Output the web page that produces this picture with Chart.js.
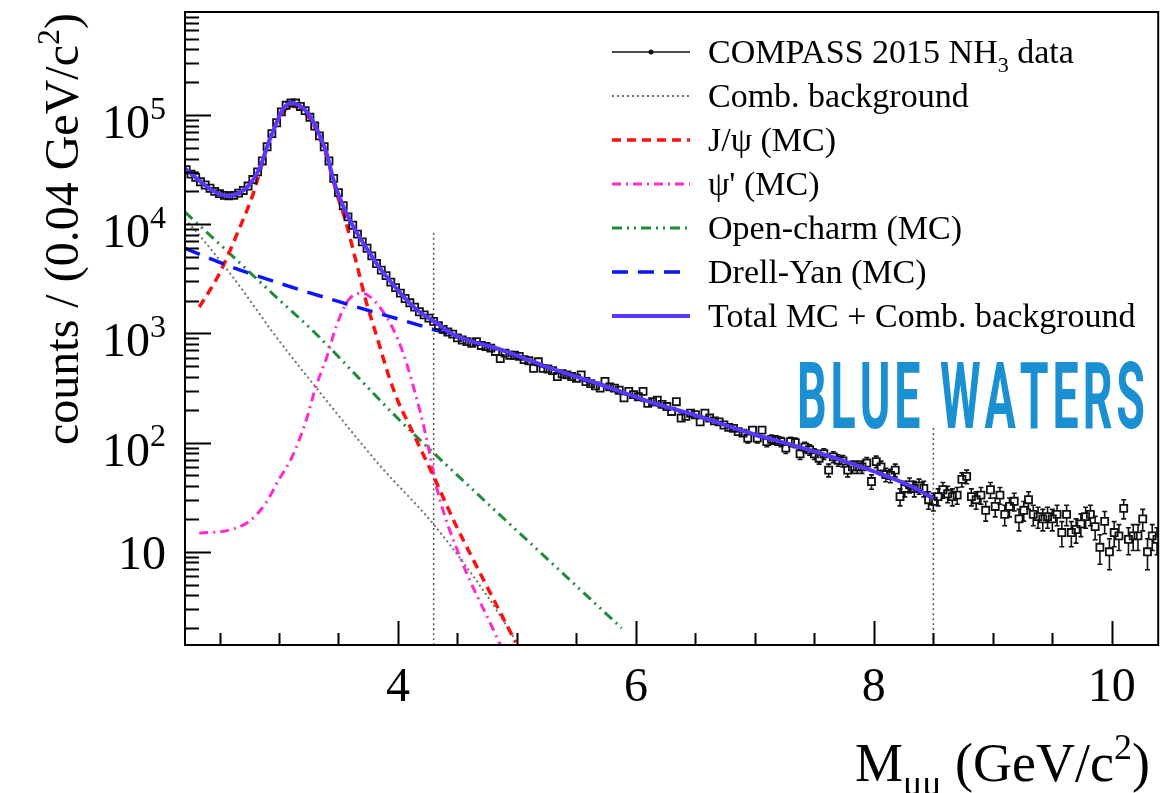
<!DOCTYPE html>
<html>
<head>
<meta charset="utf-8">
<script src="https://cdn.jsdelivr.net/npm/chart.js@4.4.1/dist/chart.umd.min.js"></script>
<style>
  html, body { margin: 0; padding: 0; background: #fff; }
  canvas { display: block; }
</style>
</head>
<body>
<canvas id="massChart" width="1165" height="793"></canvas>
<script>
// dimuon invariant mass, 0.04 GeV/c^2 bins starting at 2.22
var binStart = 2.22;
var binWidth = 0.04;
var dataCounts = [
  31600, 28800, 26900, 24500, 22900, 21400, 20000, 19100, 18400, 18200,
  18400, 19300, 20400, 22400, 25700, 30200, 38000, 51300, 67600, 85100,
  107000, 123000, 129000, 129000, 120000, 110000, 95500, 79400, 64600, 51300,
  38000, 26300, 19500, 14800, 11700, 9800, 8130, 6900, 6030, 5130,
  4370, 3800, 3390, 2950, 2630, 2340, 2090, 1910, 1740, 1580,
  1480, 1380, 1290,
  1180, 1090, 1030, 985, 912, 871, 841, 813, 841, 776,
  759, 733, 684, 589, 661, 631, 631, 617, 575, 562,
  479, 550, 479, 473, 457, 403, 427, 417, 403, 389,
  417, 363, 347, 331, 316, 363, 324, 316, 302, 257,
  295, 275, 263, 295, 229, 237, 245, 224, 214, 193,
  237, 168, 174, 186, 180, 155, 186, 168, 158, 155,
  145, 138, 135, 126, 122, 110, 130, 110, 130, 102,
  107, 105, 102, 89, 102, 100, 79, 91, 86, 79,
  72, 79, 56, 74, 69, 68, 56, 60, 60, 60,
  65, 44, 67, 60, 51, 50, 56, 32, 38, 41,
  38, 40, 38, 30, 29,
  32, 37, 34, 32, 33, 46, 49, 32, 30, 33,
  24, 37, 26, 33, 22, 26, 29, 20, 24, 30,
  22, 21, 20, 21, 20, 22, 15, 22, 15, 16,
  18, 21, 22, 17, 11, 19, 10, 15, 14, 25,
  13, 14, 14, 20, 10, 14, 13
];

// fit components
var totalMass = [2.21, 2.33, 2.44, 2.57, 2.67, 2.75, 2.84, 2.90, 2.98, 3.03, 3.10, 3.17, 3.24, 3.31, 3.40, 3.46, 3.53, 3.61, 3.73, 3.84, 3.95, 4.07, 4.18, 4.32, 4.45, 4.87, 5.29, 5.71, 6.13, 6.50, 6.92, 7.47, 7.97, 8.31, 8.50];
var totalCounts = [32400, 25100, 20400, 18200, 19500, 22900, 33100, 51300, 85100, 112000, 129000, 123000, 105000, 77600, 44700, 25100, 15500, 10200, 6170, 4070, 2880, 2040, 1580, 1260, 1000, 708, 479, 339, 234, 178, 126, 85, 56, 40, 31];

var jpsiMass = [2.33, 2.50, 2.67, 2.78, 2.86, 2.94, 3.03, 3.10, 3.16, 3.22, 3.28, 3.40, 3.48, 3.56, 3.65, 3.73, 3.82, 3.92, 4.00, 4.10, 4.20, 4.30, 4.48, 4.74, 4.99];
var jpsiCounts = [1740, 3550, 9330, 18600, 36300, 69200, 105000, 120000, 120000, 105000, 85100, 41700, 20000, 10700, 4470, 2000, 955, 417, 240, 141, 83, 49, 18.2, 5.0, 1.48];

var psi2Mass = [2.33, 2.58, 2.75, 2.89, 3.00, 3.11, 3.23, 3.31, 3.40, 3.48, 3.58, 3.70, 3.80, 3.95, 4.05, 4.12, 4.23, 4.33, 4.53, 4.80, 4.86];
var psi2Counts = [14.8, 15.8, 19, 28, 46, 74, 162, 324, 600, 1150, 2000, 2340, 2000, 1150, 631, 355, 123, 37, 8.5, 1.95, 1.41];

var charmMass = [2.21, 2.52, 3.00, 3.28, 4.01, 4.51, 5.35, 5.88];
var charmCounts = [12900, 6300, 2040, 1070, 162, 49, 6.9, 2.0];

var dyMass = [2.21, 2.60, 3.09, 3.60, 4.32, 4.87, 5.29, 5.71, 6.13, 6.50, 6.92, 7.47, 7.97, 8.50];
var dyCounts = [6030, 4070, 2690, 1820, 1070, 690, 468, 331, 229, 176, 124, 84, 56, 31];

var combMass = [2.21, 2.33, 2.61, 2.81, 2.94, 3.30, 3.67, 3.84, 4.30, 4.76, 4.98];
var combCounts = [11200, 7940, 3310, 1660, 1050, 331, 105, 63, 17.8, 3.8, 1.6];

// fit range limits
var cutMass = [4.3, 8.5];
var cutTop = [8500, 136];

// axis ticks
var massTicks = [4, 6, 8, 10];
var countTicks = [10, 100, 1000, 10000, 100000];
var countTickLabels = [['10', ''], ['10', '2'], ['10', '3'], ['10', '4'], ['10', '5']];

var legendRows = [
  { ds: 1, text: [['COMPASS 2015 NH', 0], ['3', -1], [' data', 0]] },
  { ds: 6, text: [['Comb. background', 0]] },
  { ds: 3, text: [['J/\u03C8 (MC)', 0]] },
  { ds: 4, text: [['\u03C8\' (MC)', 0]] },
  { ds: 5, text: [['Open-charm (MC)', 0]] },
  { ds: 2, text: [['Drell-Yan (MC)', 0]] },
  { ds: 0, text: [['Total MC + Comb. background', 0]] }
];

function pts(xs, ys) {
  return xs.map(function (x, i) { return { x: x, y: ys[i] }; });
}

var dataPoints = dataCounts.map(function (c, i) {
  return { x: +(binStart + i * binWidth).toFixed(2), y: c };
});

var SERIF = '"Liberation Serif", "Times New Roman", serif';

// text made of runs: 0 normal, 1 superscript, -1 subscript
function runsWidth(ctx, runs, size) {
  var w = 0;
  runs.forEach(function (r) {
    ctx.font = (r[1] ? Math.round(size * 0.66) : size) + 'px ' + SERIF;
    w += ctx.measureText(r[0]).width;
  });
  return w;
}
function drawRuns(ctx, x, y, runs, size) {
  runs.forEach(function (r) {
    ctx.font = (r[1] ? Math.round(size * 0.66) : size) + 'px ' + SERIF;
    var dy = r[1] === 1 ? -size * 0.4 : (r[1] === -1 ? size * 0.25 : 0);
    ctx.fillText(r[0], x, y + dy);
    x += ctx.measureText(r[0]).width;
  });
  return x;
}

var errorBars = {
  id: 'errorBars',
  afterDatasetDraw: function (chart, args) {
    if (args.index !== 1) return;
    var ctx = chart.ctx, ys = chart.scales.y, area = chart.chartArea;
    ctx.save();
    ctx.beginPath();
    ctx.rect(area.left, area.top, area.right - area.left, area.bottom - area.top);
    ctx.clip();
    ctx.strokeStyle = '#111';
    ctx.lineWidth = 1.6;
    args.meta.data.forEach(function (el, i) {
      var v = dataCounts[i], e = Math.sqrt(v);
      var yHi = ys.getPixelForValue(v + e);
      var yLo = ys.getPixelForValue(Math.max(v - e, ys.min));
      if (yLo - yHi < 9) return;
      ctx.beginPath();
      ctx.moveTo(el.x, yHi); ctx.lineTo(el.x, el.y - 3.5);
      ctx.moveTo(el.x, el.y + 3.5); ctx.lineTo(el.x, yLo);
      ctx.moveTo(el.x - 2.5, yHi); ctx.lineTo(el.x + 2.5, yHi);
      ctx.moveTo(el.x - 2.5, yLo); ctx.lineTo(el.x + 2.5, yLo);
      ctx.stroke();
    });
    ctx.restore();
  }
};

var frameAndText = {
  id: 'frameAndText',
  afterDraw: function (chart) {
    var ctx = chart.ctx, area = chart.chartArea;
    var xs = chart.scales.x, ys = chart.scales.y;
    ctx.save();
    ctx.fillStyle = '#000';
    ctx.strokeStyle = '#000';
    ctx.lineWidth = 2;
    ctx.setLineDash([]);

    // frame
    ctx.strokeRect(area.left, area.top, area.right - area.left, area.bottom - area.top);

    // log ticks on the left axis
    ctx.beginPath();
    for (var e = 0; e <= 6; e++) {
      for (var k = 1; k <= 9; k++) {
        var v = k * Math.pow(10, e);
        if (v < ys.min || v > ys.max) continue;
        var py = Math.round(ys.getPixelForValue(v)) + 0.5;
        ctx.moveTo(area.left, py);
        ctx.lineTo(area.left + (k === 1 ? 26 : 14), py);
      }
    }
    // mass ticks every 0.5 on the bottom axis
    for (var h = 5; h <= 21; h++) {
      var m = h / 2;
      if (m < xs.min || m > xs.max) continue;
      var px = Math.round(xs.getPixelForValue(m)) + 0.5;
      ctx.moveTo(px, area.bottom);
      ctx.lineTo(px, area.bottom - (massTicks.indexOf(m) >= 0 ? 24 : 12));
    }
    ctx.stroke();

    // tick labels
    var tickSize = 48;
    ctx.textBaseline = 'alphabetic';
    ctx.textAlign = 'center';
    ctx.font = tickSize + 'px ' + SERIF;
    massTicks.forEach(function (m) {
      ctx.fillText(String(m), xs.getPixelForValue(m), 701);
    });
    ctx.textAlign = 'left';
    countTicks.forEach(function (v, i) {
      var lab = countTickLabels[i];
      var runs = [[lab[0], 0]];
      if (lab[1]) runs.push([lab[1], 1]);
      var w = runsWidth(ctx, runs, tickSize);
      var py = ys.getPixelForValue(v);
      drawRuns(ctx, 166 - w, py + (lab[1] ? 23 : 17), runs, tickSize);
    });

    // axis titles
    var xTitle = [['M', 0], ['\u03BC\u03BC', -1], [' (GeV/c', 0], ['2', 1], [')', 0]];
    var xSize = 54;
    var xw = runsWidth(ctx, xTitle, xSize);
    drawRuns(ctx, 1150 - xw, 781, xTitle, xSize);

    var yTitle = [['counts / (0.04 GeV/c', 0], ['2', 1], [')', 0]];
    var ySize = 48;
    var yw = runsWidth(ctx, yTitle, ySize);
    ctx.save();
    ctx.translate(78, 229);
    ctx.rotate(-Math.PI / 2);
    drawRuns(ctx, -yw / 2, 0, yTitle, ySize);
    ctx.restore();

    // legend
    var legSize = 34;
    legendRows.forEach(function (row, i) {
      var ds = chart.data.datasets[row.ds];
      var cy = 52 + i * 44;
      ctx.save();
      ctx.strokeStyle = ds.borderColor;
      ctx.lineWidth = row.ds === 1 ? 1.5 : ds.borderWidth;
      ctx.setLineDash(ds.borderDash || []);
      ctx.beginPath();
      ctx.moveTo(612, cy);
      ctx.lineTo(690, cy);
      ctx.stroke();
      if (row.ds === 1) {
        ctx.fillStyle = '#111';
        ctx.beginPath();
        ctx.arc(651, cy, 2.5, 0, Math.PI * 2);
        ctx.fill();
      }
      ctx.restore();
      drawRuns(ctx, 708, cy + 11, row.text, legSize);
    });

    // logo lettering
    var word = 'BLUE WATERS';
    ctx.fillStyle = '#1a8fd1';
    ctx.font = 'bold 93px Roboto, "Liberation Sans", sans-serif';
    var sx = 0.5;
    var glyphW = 0;
    for (var c = 0; c < word.length; c++) {
      glyphW += ctx.measureText(word[c]).width * sx;
    }
    var gap = (348 - glyphW) / (word.length - 1);
    var lx = 797;
    for (var c2 = 0; c2 < word.length; c2++) {
      var cw = ctx.measureText(word[c2]).width * sx;
      ctx.save();
      ctx.translate(lx, 428);
      ctx.scale(sx, 1);
      ctx.fillText(word[c2], 0, 0);
      ctx.restore();
      lx += cw + gap;
    }
    ctx.restore();
  }
};

var lineStyle = function (label, data, color, width, dash) {
  return {
    label: label,
    data: data,
    borderColor: color,
    backgroundColor: color,
    borderWidth: width,
    borderDash: dash,
    pointRadius: 0,
    fill: false,
    cubicInterpolationMode: 'monotone'
  };
};

var datasets = [
  lineStyle('Total MC + Comb. background', pts(totalMass, totalCounts), '#5b36ff', 4, []),
  {
    label: 'COMPASS 2015 NH3 data',
    data: dataPoints,
    showLine: false,
    pointStyle: 'rect',
    pointRadius: 5,
    pointBorderWidth: 1.8,
    borderColor: '#111',
    pointBorderColor: '#111',
    pointBackgroundColor: 'rgba(255,255,255,0)',
    borderWidth: 1.5
  },
  lineStyle('Drell-Yan (MC)', pts(dyMass, dyCounts), '#0a14ff', 3.5, [16, 10]),
  lineStyle('J/\u03C8 (MC)', pts(jpsiMass, jpsiCounts), '#ff1010', 3.5, [9, 6]),
  lineStyle('\u03C8\' (MC)', pts(psi2Mass, psi2Counts), '#ff2bd0', 3, [9, 5, 2, 5]),
  lineStyle('Open-charm (MC)', pts(charmMass, charmCounts), '#1e8c3a', 3, [10, 5, 2, 5, 2, 5]),
  lineStyle('Comb. background', pts(combMass, combCounts), '#707070', 2, [2, 3]),
  lineStyle('cut low', pts([cutMass[0], cutMass[0]], [1.4, cutTop[0]]), '#555', 1.5, [2, 3]),
  lineStyle('cut high', pts([cutMass[1], cutMass[1]], [1.4, cutTop[1]]), '#555', 1.5, [2, 3])
];

new Chart(document.getElementById('massChart').getContext('2d'), {
  type: 'line',
  data: { datasets: datasets },
  options: {
    responsive: false,
    animation: false,
    events: [],
    layout: { padding: { top: 12, right: 3, left: 0, bottom: 0 } },
    plugins: { legend: { display: false }, tooltip: { enabled: false } },
    scales: {
      x: {
        type: 'linear',
        min: 2.21,
        max: 10.39,
        grid: { display: false },
        border: { display: false },
        ticks: { display: false },
        afterFit: function (scale) { scale.height = 148; }
      },
      y: {
        type: 'logarithmic',
        min: 1.4,
        max: 880000,
        grid: { display: false },
        border: { display: false },
        ticks: { display: false },
        afterFit: function (scale) { scale.width = 185; }
      }
    }
  },
  plugins: [errorBars, frameAndText]
});
</script>
</body>
</html>
